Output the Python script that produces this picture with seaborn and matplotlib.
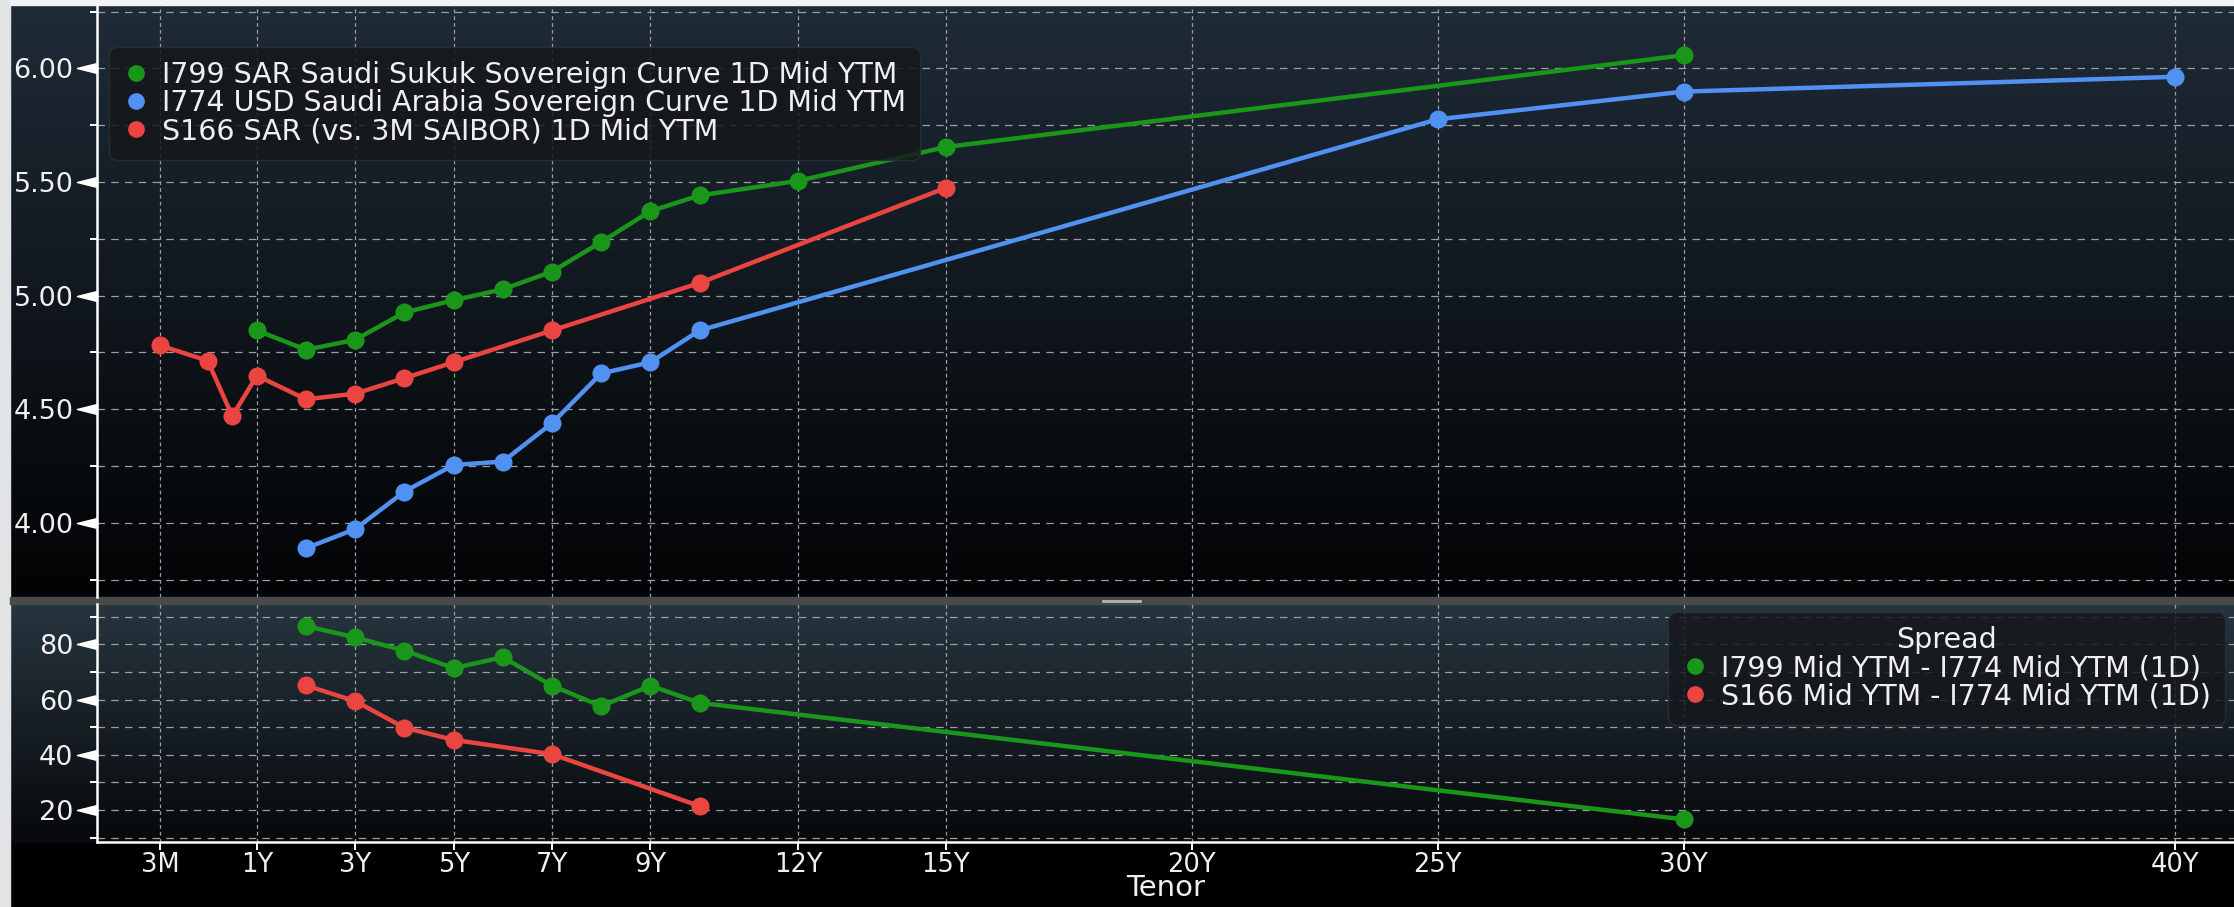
import numpy as np
import pandas as pd
import matplotlib
matplotlib.use("Agg")
from matplotlib import pyplot as plt
from matplotlib.lines import Line2D
from matplotlib.patches import Rectangle
from matplotlib.path import Path
import seaborn as sns

# ---- data ----
i799_name = "I799 SAR Saudi Sukuk Sovereign Curve 1D Mid YTM"
i799_tenor = [1, 2, 3, 4, 5, 6, 7, 8, 9, 10, 12, 15, 30]
i799_ytm = [4.847, 4.762, 4.806, 4.926, 4.980, 5.028, 5.106, 5.236, 5.372, 5.441, 5.505, 5.654, 6.058]

i774_name = "I774 USD Saudi Arabia Sovereign Curve 1D Mid YTM"
i774_tenor = [2, 3, 4, 5, 6, 7, 8, 9, 10, 25, 30, 40]
i774_ytm = [3.889, 3.973, 4.138, 4.255, 4.270, 4.439, 4.658, 4.707, 4.847, 5.776, 5.898, 5.963]

s166_name = "S166 SAR (vs. 3M SAIBOR) 1D Mid YTM"
s166_tenor = [0.25, 0.5, 0.75, 1, 2, 3, 4, 5, 7, 10, 15]
s166_ytm = [4.781, 4.714, 4.470, 4.648, 4.544, 4.569, 4.637, 4.707, 4.847, 5.056, 5.474]

spread1_name = "I799 Mid YTM - I774 Mid YTM (1D)"
spread1_tenor = [2, 3, 4, 5, 6, 7, 8, 9, 10, 30]
spread1_bp = [86.6, 82.5, 77.7, 71.4, 75.3, 65.0, 57.6, 65.0, 58.8, 16.6]

spread2_name = "S166 Mid YTM - I774 Mid YTM (1D)"
spread2_tenor = [2, 3, 4, 5, 7, 10]
spread2_bp = [65.1, 59.4, 49.8, 45.4, 40.2, 21.4]

tick_tenors = [0.25, 1, 3, 5, 7, 9, 12, 15, 20, 25, 30, 40]
tick_labels = ["3M", "1Y", "3Y", "5Y", "7Y", "9Y", "12Y", "15Y", "20Y", "25Y", "30Y", "40Y"]

GREEN = "#1a971b"
BLUE = "#5191f2"
RED = "#ea4541"
TXT = "#f0f0f0"
GRID = "#9a9ea2"

# Bloomberg tenor axis: linear in years from 1Y, stretched short end
knot_tenor = np.array([0.0, 0.25, 0.5, 0.75, 1.0, 100.0])
knot_pos = np.array([-2.25, -0.97, 0.0, 0.5, 1.0, 100.0])


def fwd(t):
    return np.interp(t, knot_tenor, knot_pos)


def inv(p):
    return np.interp(p, knot_pos, knot_tenor)


W, H = 2234, 907


def px_rect(x0, y0, x1, y1):
    return [x0 / W, 1 - y1 / H, (x1 - x0) / W, (y1 - y0) / H]


fig = plt.figure(figsize=(W / 100, H / 100), dpi=100, facecolor="black")

# gradient backgrounds for the two panels
def gradient_bg(rect, top, bottom):
    bg = fig.add_axes(rect, zorder=0)
    c0 = np.array(matplotlib.colors.to_rgb(top))
    c1 = np.array(matplotlib.colors.to_rgb(bottom))
    f = np.linspace(0, 1, 256)[:, None]
    img = (c0 * (1 - f) + c1 * f)[:, None, :]
    bg.imshow(img, aspect="auto", extent=[0, 1, 0, 1], interpolation="bilinear")
    bg.set_axis_off()
    return bg

gradient_bg(px_rect(10, 5, W, 597), "#1f2b37", "#020304")
gradient_bg(px_rect(10, 604, W, 843), "#27353f", "#07090b")

# screenshot edges and separator
fig.patches.append(Rectangle((0, 0), 10 / W, 1, transform=fig.transFigure, color="#e1e3e5", zorder=0))
fig.patches.append(Rectangle((10 / W, 1 - 5 / H), 1, 5 / H, transform=fig.transFigure, color="#f2f2f2", zorder=0))
fig.patches.append(Rectangle((10 / W, 1 - 604 / H), 1, 7 / H, transform=fig.transFigure, color="#4a4a4a", zorder=0))
fig.add_artist(Line2D([1103 / W, 1140 / W], [1 - 600.5 / H] * 2, transform=fig.transFigure, color="#b5b5b5", lw=2))

ax_top = fig.add_axes(px_rect(97, 5, W, 597), zorder=2)
ax_bot = fig.add_axes(px_rect(97, 604, W, 842), zorder=2)

top_df = pd.concat([
    pd.DataFrame({"tenor": i799_tenor, "value": i799_ytm, "series": i799_name}),
    pd.DataFrame({"tenor": i774_tenor, "value": i774_ytm, "series": i774_name}),
    pd.DataFrame({"tenor": s166_tenor, "value": s166_ytm, "series": s166_name}),
])
bot_df = pd.concat([
    pd.DataFrame({"tenor": spread1_tenor, "value": spread1_bp, "series": spread1_name}),
    pd.DataFrame({"tenor": spread2_tenor, "value": spread2_bp, "series": spread2_name}),
])
top_pal = {i799_name: GREEN, i774_name: BLUE, s166_name: RED}
bot_pal = {spread1_name: GREEN, spread2_name: RED}

for ax, df, pal in [(ax_top, top_df, top_pal), (ax_bot, bot_df, bot_pal)]:
    ax.set_xscale("function", functions=(fwd, inv))
    sns.lineplot(data=df, x="tenor", y="value", hue="series", hue_order=list(pal), palette=pal,
                 estimator=None, sort=True, marker="o", markersize=13, markeredgewidth=0,
                 linewidth=3.2, legend=False, ax=ax, zorder=3)
    ax.set_facecolor("none")
    ax.set_xlim(0.0, 41.19)
    ax.set_xticks(tick_tenors)
    ax.set_xticks([], minor=True)
    ax.set_xlabel("")
    ax.set_ylabel("")
    for s in ["top", "right", "bottom"]:
        ax.spines[s].set_visible(False)
    ax.spines["left"].set_color("white")
    ax.spines["left"].set_linewidth(1.8)
    ax.grid(axis="x", which="major", color=GRID, lw=0.9, linestyle=(0, (3, 2.5)))
    ax.grid(axis="y", which="both", color=GRID, lw=0.9, linestyle=(0, (6, 5)))
    ax.set_axisbelow(True)

# top panel axes
ax_top.set_ylim(3.674, 6.279)
ax_top.set_yticks([4.0, 4.5, 5.0, 5.5, 6.0])
ax_top.set_yticklabels(["4.00", "4.50", "5.00", "5.50", "6.00"])
ax_top.set_yticks([3.75, 4.25, 4.75, 5.25, 5.75, 6.25], minor=True)
ax_top.tick_params(axis="x", which="both", bottom=False, labelbottom=False)

# bottom panel axes
ax_bot.set_ylim(8.4, 94.6)
ax_bot.set_yticks([20, 40, 60, 80])
ax_bot.set_yticks([10, 30, 50, 70, 90], minor=True)
ax_bot.set_xticklabels(tick_labels)
ax_bot.spines["bottom"].set_visible(True)
ax_bot.spines["bottom"].set_color("white")
ax_bot.spines["bottom"].set_linewidth(1.8)
ax_bot.tick_params(axis="x", which="major", direction="out", length=6, width=1.4,
                   colors="white", labelcolor=TXT, labelsize=18.5, pad=1)
ax_bot.set_xlabel("Tenor", color=TXT, fontsize=21, labelpad=-3)

# triangular y ticks like the terminal
tri = Path([[-1, 0], [0, 0.25], [0, -0.25], [-1, 0]],
           [Path.MOVETO, Path.LINETO, Path.LINETO, Path.CLOSEPOLY])
for ax in (ax_top, ax_bot):
    ax.tick_params(axis="y", which="major", length=16, width=1, colors="white",
                   labelcolor=TXT, labelsize=19.5, pad=1)
    ax.tick_params(axis="y", which="minor", direction="out", length=5, width=1.4, colors="white")
    for t in ax.yaxis.get_major_ticks():
        t.tick1line.set_marker(tri)
        t.tick1line.set_markersize(29)

# legends
def handles(pal):
    return [Line2D([], [], marker="o", linestyle="none", color=c, markersize=12, markeredgewidth=0)
            for c in pal.values()]

leg_kw = dict(frameon=True, facecolor="#15181c", edgecolor="#2c3036", framealpha=0.85,
              fontsize=20.5, labelcolor=TXT, handletextpad=0.45, handlelength=0.9,
              labelspacing=0.0, borderpad=0.5, borderaxespad=0)
lt = ax_top.legend(handles(top_pal), list(top_pal), loc="upper left",
                   bbox_to_anchor=(0.0056, 0.929), **leg_kw)
lb = ax_bot.legend(handles(bot_pal), list(bot_pal), loc="upper right", title="Spread",
                   title_fontsize=20.5, bbox_to_anchor=(0.9958, 0.966), **leg_kw)
lb.get_title().set_color(TXT)
for lg in (lt, lb):
    lg.get_frame().set_boxstyle("round", pad=0, rounding_size=0.3)

fig.savefig("out.png", dpi=100, facecolor="black")
